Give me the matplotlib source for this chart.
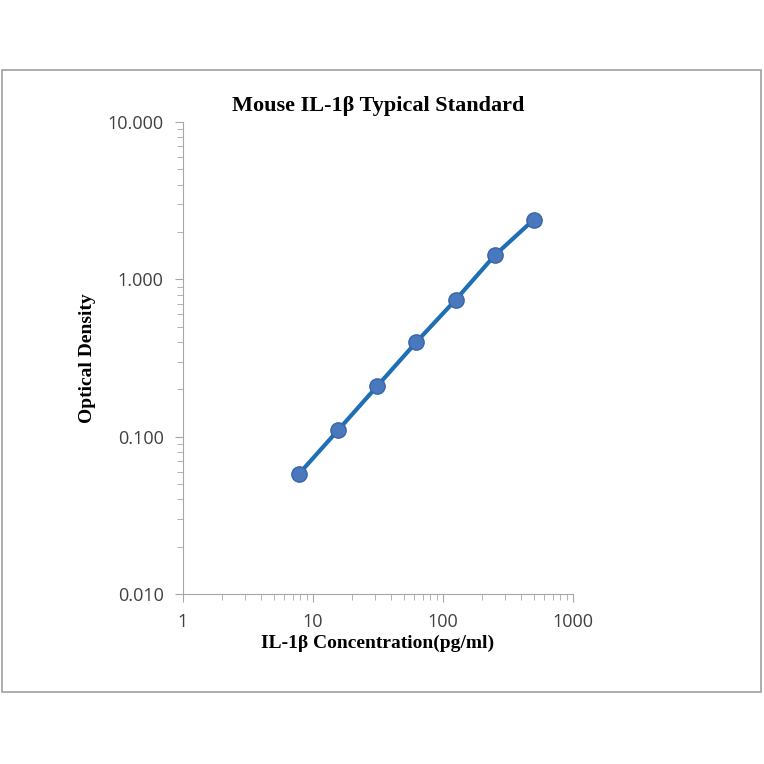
import matplotlib
matplotlib.use("Agg")
import matplotlib.pyplot as plt
from matplotlib.patches import Rectangle
from matplotlib.ticker import FixedLocator, FixedFormatter, LogLocator, NullFormatter

conc = [7.8, 15.6, 31.25, 62.5, 125, 250, 500]
od = [0.058, 0.11, 0.21, 0.40, 0.74, 1.42, 2.4]
x_ticks = [1, 10, 100, 1000]
x_labels = ["1", "10", "100", "1000"]
y_ticks = [0.01, 0.1, 1, 10]
y_labels = ["0.010", "0.100", "1.000", "10.000"]

fig = plt.figure(figsize=(7.64, 7.64), dpi=100)
fig.patches.append(Rectangle((2 / 764, 72 / 764), 759 / 764, 622 / 764,
                             transform=fig.transFigure, fill=False,
                             edgecolor="#a0a0a0", linewidth=1.2))

ax = fig.add_axes([183 / 764, 170 / 764, 390 / 764, 472 / 764])
ax.plot(conc, od, "-", color="#1f6fb5", linewidth=3, zorder=2)
ax.plot(conc, od, "o", markersize=11, markerfacecolor="#4a78bd",
        markeredgecolor="#3a64a8", zorder=3)
ax.set_xscale("log")
ax.set_yscale("log")
ax.set_xlim(1, 1000)
ax.set_ylim(0.01, 10)

for s in ["top", "right"]:
    ax.spines[s].set_visible(False)
for s in ["left", "bottom"]:
    ax.spines[s].set_color("#a6a6a6")

ax.xaxis.set_major_locator(FixedLocator(x_ticks))
ax.xaxis.set_major_formatter(FixedFormatter(x_labels))
ax.yaxis.set_major_locator(FixedLocator(y_ticks))
ax.yaxis.set_major_formatter(FixedFormatter(y_labels))
ax.xaxis.set_minor_locator(LogLocator(subs=range(2, 10)))
ax.yaxis.set_minor_locator(LogLocator(subs=range(2, 10)))
ax.xaxis.set_minor_formatter(NullFormatter())
ax.yaxis.set_minor_formatter(NullFormatter())
ax.tick_params(which="both", color="#a6a6a6", direction="out")
ax.tick_params(which="major", length=6, labelsize=13, labelcolor="#404040", pad=8)
ax.tick_params(which="minor", length=4)
for lbl in ax.get_xticklabels() + ax.get_yticklabels():
    lbl.set_family(["Open Sans", "DejaVu Sans"])

serif = ["Liberation Serif", "DejaVu Serif"]
ax.set_title("Mouse IL-1β Typical Standard", family=serif, fontsize=16,
             fontweight="bold", pad=8)
ax.set_xlabel("IL-1β Concentration(pg/ml)", family=serif, fontsize=14,
              fontweight="bold", labelpad=2)
ax.set_ylabel("Optical Density", family=serif, fontsize=14,
              fontweight="bold", labelpad=8)

fig.savefig("out.png", dpi=100)
